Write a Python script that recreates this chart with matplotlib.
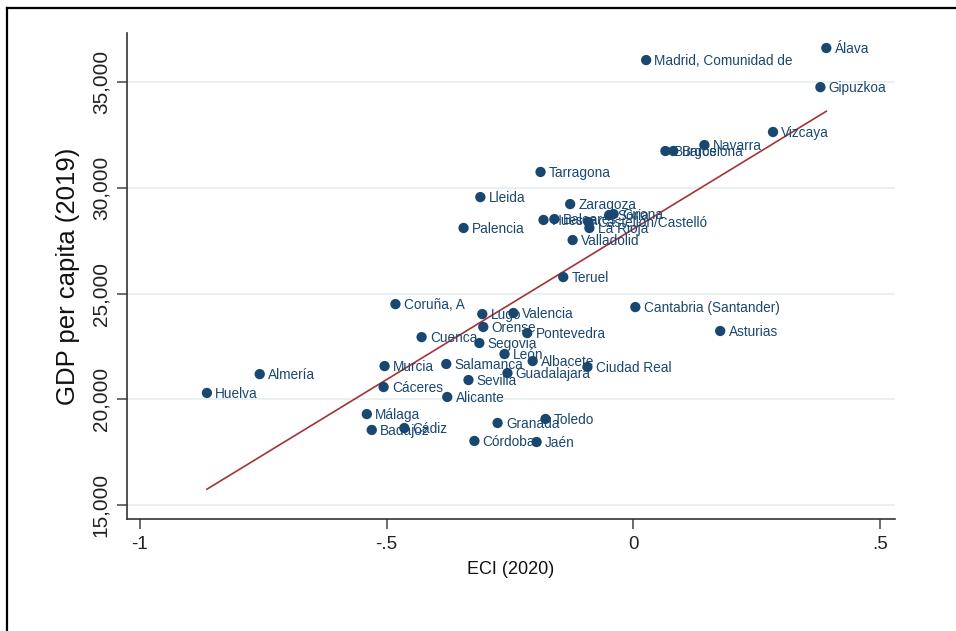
import numpy as np
import matplotlib.pyplot as plt
from matplotlib.lines import Line2D

# provinces: economic complexity index (2020) vs GDP per capita (2019)
provinces = [
    "Álava", "Madrid, Comunidad de", "Gipuzkoa", "Vizcaya", "Navarra",
    "Burgos", "Barcelona", "Tarragona", "Lleida", "Palencia", "Zaragoza",
    "Huesca", "Baleares", "Soria", "Girona", "Castellón/Castelló", "La Rioja",
    "Valladolid", "Teruel", "Coruña, A", "Cantabria (Santander)", "Asturias",
    "Lugo", "Valencia", "Orense", "Pontevedra", "Cuenca", "Segovia", "León",
    "Albacete", "Ciudad Real", "Murcia", "Salamanca", "Guadalajara", "Sevilla",
    "Cáceres", "Alicante", "Málaga", "Badajoz", "Cádiz", "Granada", "Toledo",
    "Córdoba", "Jaén", "Almería", "Huelva",
]
eci = [
    0.391, 0.026, 0.379, 0.283, 0.144,
    0.065, 0.081, -0.188, -0.310, -0.344, -0.128,
    -0.182, -0.160, -0.049, -0.040, -0.091, -0.089,
    -0.123, -0.142, -0.482, 0.004, 0.176,
    -0.306, -0.243, -0.304, -0.215, -0.429, -0.312, -0.261,
    -0.204, -0.093, -0.504, -0.379, -0.255, -0.334,
    -0.506, -0.377, -0.540, -0.530, -0.464, -0.275, -0.178,
    -0.322, -0.196, -0.757, -0.864,
]
gdp = [
    36610, 36040, 34760, 32640, 32020,
    31740, 31740, 30750, 29560, 28100, 29230,
    28480, 28520, 28710, 28760, 28380, 28100,
    27530, 25780, 24500, 24360, 23230,
    24030, 24080, 23420, 23130, 22940, 22660, 22140,
    21810, 21530, 21570, 21670, 21240, 20910,
    20580, 20110, 19300, 18550, 18640, 18880, 19070,
    18030, 17980, 21190, 20300,
]

x_ticks = [-1, -0.5, 0, 0.5]
x_ticklabels = ["-1", "-.5", "0", ".5"]
y_ticks = [15000, 20000, 25000, 30000, 35000]
y_ticklabels = ["15,000", "20,000", "25,000", "30,000", "35,000"]

navy = "#1a476f"
maroon = "#a23338"
plt.rcParams["font.family"] = ["Liberation Sans", "DejaVu Sans"]

fig = plt.figure(figsize=(9.56, 6.31), dpi=100)
ax = fig.add_axes([0.1328, 0.1775, 0.8033, 0.7702])

x = np.array(eci)
y = np.array(gdp)

# linear fit over the observed ECI range
slope, intercept = np.polyfit(x, y, 1)
xs = np.array([x.min(), x.max()])
ax.plot(xs, intercept + slope * xs, color=maroon, lw=1.2, zorder=2)

ax.scatter(x, y, s=55, color=navy, edgecolors="none", zorder=3)
for name, xi, yi in zip(provinces, eci, gdp):
    ax.annotate(name, (xi, yi), xytext=(6, -0.5), textcoords="offset points",
                ha="left", va="center", color=navy, fontsize=9.8, zorder=4)

ax.set_xlim(-1.026, 0.530)
ax.set_ylim(14340, 37320)
ax.set_xticks(x_ticks)
ax.set_xticklabels(x_ticklabels, fontsize=13.5)
ax.set_yticks(y_ticks)
ax.set_yticklabels(y_ticklabels, rotation=90, va="center", fontsize=15)
ax.tick_params(axis="both", length=7, width=1.1, color="#444444",
               labelcolor="#222222", pad=5)

ax.grid(axis="y", color="#e4ecee", lw=1.1)
ax.set_axisbelow(True)
for side in ("top", "right"):
    ax.spines[side].set_visible(False)
for side in ("left", "bottom"):
    ax.spines[side].set_color("#333333")
    ax.spines[side].set_linewidth(1.2)

ax.set_xlabel("ECI (2020)", fontsize=13, color="#111111", labelpad=6)
ax.set_ylabel("GDP per capita (2019)", fontsize=18.5, color="#111111",
              labelpad=8)

# frame around the figure
fig.add_artist(Line2D([7 / 956, 1.2], [1 - 8 / 631, 1 - 8 / 631],
                      color="black", lw=1.6, transform=fig.transFigure))
fig.add_artist(Line2D([7 / 956, 7 / 956], [1 - 8 / 631, -0.2],
                      color="black", lw=1.6, transform=fig.transFigure))

fig.savefig("out.png", dpi=100)
